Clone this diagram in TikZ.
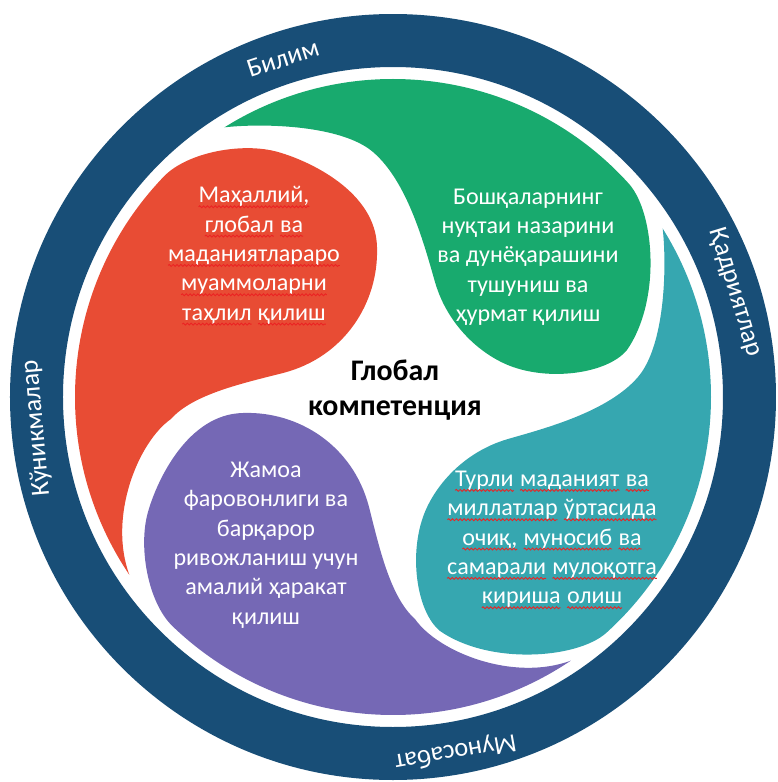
\documentclass[tikz,border=0pt]{standalone}
\usepackage{fontspec}
\setmainfont{Carlito}
\usetikzlibrary{positioning, decorations.pathmorphing}

\definecolor{ringblue}{RGB}{24,78,119}
\definecolor{swred}{RGB}{232,76,52}
\definecolor{swgreen}{RGB}{24,170,110}
\definecolor{swteal}{RGB}{54,167,176}
\definecolor{swpurple}{RGB}{117,104,181}
\definecolor{spellred}{RGB}{235,35,35}

% red wavy line under a word
\newcommand{\wavy}[1]{\tikz[baseline=(w.base)]{\node[inner sep=0pt, outer sep=0pt] (w) {#1};
  \draw[spellred, line width=0.5pt, decorate, decoration={snake, amplitude=0.55pt, segment length=2.2pt}]
    ([yshift=-2.3pt]w.base west) -- ([yshift=-2.3pt]w.base east);}}

% swirls drawn with the head at the upper right, tail running left along the rim
\newcommand{\tadpole}{(122:318) arc[start angle=122, end angle=42, radius=318]
  .. controls (262,183) and (268,96) .. (234,47)
  .. controls (215,24) and (160,16) .. (120,30)
  .. controls (90,40.5) and (55,70) .. (42,115)
  .. controls (31.6,151) and (15,215) .. (-20,245)
  .. controls (-51.5,272) and (-130,274) .. (122:318) -- cycle}
% the fatter ones (left side)
\newcommand{\bigtadpole}{(124:318) arc[start angle=124, end angle=46, radius=318]
  .. controls (245,205) and (255,150) .. (245,115)
  .. controls (236,83) and (205,17) .. (150,16)
  .. controls (95,14) and (40,48) .. (24,110)
  .. controls (14,149) and (3,200) .. (-22,222)
  .. controls (-45,255) and (-120,285) .. (124:318) -- cycle}

\begin{document}
\begin{tikzpicture}[x=0.02cm,y=0.02cm,
    blobtext/.style={text=white, align=center, font=\fontsize{13.7}{16.7}\selectfont},
    ringtext/.style={text=white, font=\fontsize{15}{18}\selectfont}]
  \useasboundingbox (-393,-385) rectangle (385,397);

  \fill[ringblue, even odd rule] (0,0) circle (383) (0,0) circle (330);

  \foreach \ang/\col/\blob in {0/swgreen/\tadpole, 270/swteal/\tadpole,
                               90/swred/\bigtadpole, 180/swpurple/\bigtadpole}
    \fill[\col, rotate=\ang] \blob;

  \node[ringtext, rotate=18] (bilim) at (108:356) {Билим};
  \node[ringtext, rotate=-73] (qadr) at (17:358) {Қадриятлар};
  \node[ringtext, rotate=190] (munos) at (280:360) {Муносабат};
  \node[ringtext, rotate=95] (kunik) at (185:358) {Кўникмалар};

  \node[blobtext] (mahal) at (-139,141) {\wavy{Маҳаллий,}\\\wavy{глобал} \wavy{ва}\\\wavy{маданиятлараро}\\\wavy{муаммоларни}\\\wavy{таҳлил} \wavy{қилиш}};
  \node[blobtext] (bosh) at (135,140) {Бошқаларнинг\\нуқтаи назарини\\ва дунёқарашини\\тушуниш ва\\ҳурмат қилиш};
  \node[blobtext] (turli) at (159,-143) {\wavy{Турли} \wavy{маданият} \wavy{ва}\\\wavy{миллатлар} \wavy{ўртасида}\\\wavy{очиқ,} \wavy{муносиб} \wavy{ва}\\\wavy{самарали} \wavy{мулоқотга}\\\wavy{кириша} \wavy{олиш}};
  \node[blobtext] (jamoa) at (-127,-148) {Жамоа\\фаровонлиги ва\\барқарор\\ривожланиш учун\\амалий ҳаракат\\қилиш};

  \node[align=center, font=\bfseries\fontsize{17}{20}\selectfont] (glob) at (2,7) {Глобал\\компетенция};
\end{tikzpicture}
\end{document}
